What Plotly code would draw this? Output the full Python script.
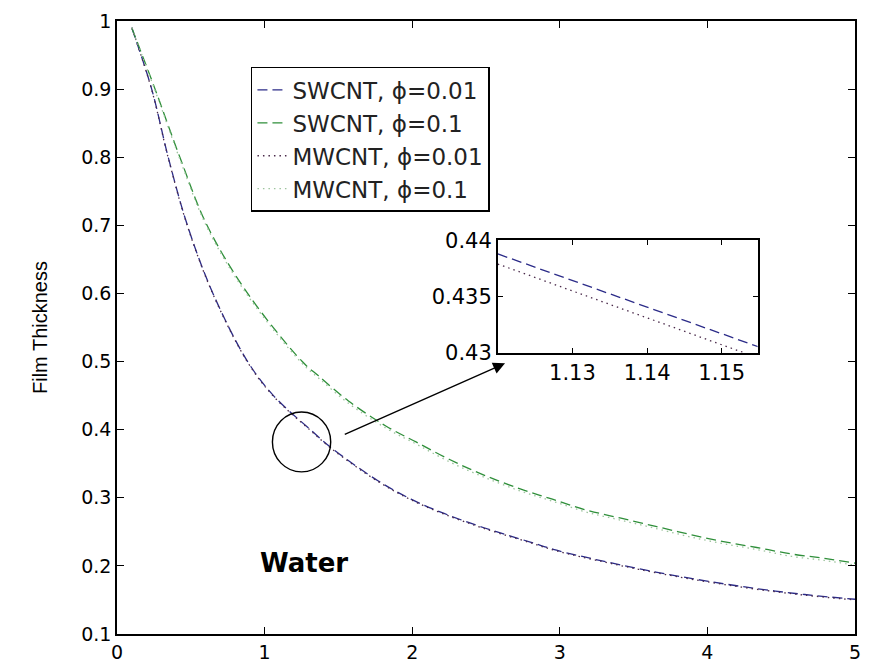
import plotly.graph_objects as go

# ---- data ----
x_sw = [0.1, 0.235, 0.347, 0.477, 0.65, 0.885, 1.06, 1.31, 1.454, 1.768, 1.992, 2.216,
        2.486, 2.8, 2.978, 3.314, 3.65, 3.987, 4.323, 4.659, 5.0]
y_sw_001 = [0.99, 0.9, 0.8, 0.7, 0.6, 0.5, 0.45, 0.4, 0.373, 0.325, 0.298, 0.277,
            0.256, 0.235, 0.223, 0.206, 0.191, 0.178, 0.167, 0.158, 0.151]
y_mw_001 = [0.99, 0.899, 0.799, 0.699, 0.599, 0.499, 0.449, 0.399, 0.372, 0.324, 0.297, 0.276,
            0.255, 0.234, 0.222, 0.205, 0.190, 0.177, 0.166, 0.157, 0.150]

x_up = [0.1, 0.258, 0.426, 0.61, 0.885, 1.255, 1.365, 1.566, 1.824, 2.026, 2.25, 2.478,
        2.732, 2.95, 3.18, 3.415, 3.65, 3.874, 4.099, 4.334, 4.569, 4.793, 5.0]
y_sw_01 = [0.99, 0.9, 0.8, 0.7, 0.6, 0.5, 0.479, 0.4425, 0.405, 0.382, 0.3565, 0.334,
           0.313, 0.298, 0.282, 0.270, 0.258, 0.2465, 0.236, 0.227, 0.2175, 0.211, 0.204]
y_mw_01 = [0.99, 0.898, 0.797, 0.697, 0.597, 0.497, 0.476, 0.439, 0.402, 0.379, 0.353, 0.331,
           0.310, 0.295, 0.279, 0.267, 0.255, 0.243, 0.233, 0.224, 0.214, 0.208, 0.201]

# zoomed inset
x_inset = [1.12, 1.155]
y_inset_sw = [0.4388, 0.4305]
y_inset_mw = [0.4379, 0.4295]

names = ["SWCNT, \u03d5=0.01", "SWCNT, \u03d5=0.1", "MWCNT, \u03d5=0.01", "MWCNT, \u03d5=0.1"]
x_ticks = [0, 1, 2, 3, 4, 5]
y_ticks = [0.1, 0.2, 0.3, 0.4, 0.5, 0.6, 0.7, 0.8, 0.9, 1]
y_ticktext = ["0.1", "0.2", "0.3", "0.4", "0.5", "0.6", "0.7", "0.8", "0.9", "1"]
inset_xticks = [1.13, 1.14, 1.15]
inset_yticks = [0.43, 0.435, 0.44]

c_sw001 = "#2b2b88"
c_sw01 = "#2f8f3a"
c_mw001 = "#4a2a4a"
c_mw01 = "#9ec49e"
DASH = "10px,5px"
DOT = "1.5px,4px"
FONT = "Liberation Sans, Arial, sans-serif"
WIDE = "DejaVu Sans, Verdana, sans-serif"

fig = go.Figure()
fig.add_trace(go.Scatter(x=x_sw, y=y_sw_001, mode="lines", name=names[0], line_shape="spline",
                         line=dict(color=c_sw001, width=1.3, dash=DASH)))
fig.add_trace(go.Scatter(x=x_up, y=y_sw_01, mode="lines", name=names[1], line_shape="spline",
                         line=dict(color=c_sw01, width=1.3, dash=DASH)))
fig.add_trace(go.Scatter(x=x_sw, y=y_mw_001, mode="lines", name=names[2], line_shape="spline",
                         line=dict(color=c_mw001, width=1.3, dash=DOT)))
fig.add_trace(go.Scatter(x=x_up, y=y_mw_01, mode="lines", name=names[3], line_shape="spline",
                         line=dict(color=c_mw01, width=1.3, dash=DOT)))

fig.add_trace(go.Scatter(x=x_inset, y=y_inset_sw, mode="lines", xaxis="x2", yaxis="y2",
                         showlegend=False, line=dict(color=c_sw001, width=1.3, dash=DASH)))
fig.add_trace(go.Scatter(x=x_inset, y=y_inset_mw, mode="lines", xaxis="x2", yaxis="y2",
                         showlegend=False, line=dict(color=c_mw001, width=1.3, dash=DOT)))

base = dict(showgrid=False, zeroline=False, showline=True, linecolor="black",
            linewidth=1.5, mirror="ticks", ticks="inside", tickcolor="black")
main_font = dict(family=WIDE, size=19, color="black")
inset_font = dict(family=WIDE, size=21, color="black")

fig.update_layout(
    width=870, height=672,
    margin=dict(l=117, r=9, t=17, b=38),
    paper_bgcolor="white", plot_bgcolor="white",
    font=dict(family=FONT, color="black"),
    xaxis=dict(range=[0, 5], tickvals=x_ticks, ticklen=7, domain=[0, 1],
               tickfont=main_font, **base),
    yaxis=dict(range=[0.1, 1], tickvals=y_ticks, ticktext=y_ticktext, ticklen=7, domain=[0, 1],
               tickfont=main_font,
               title=dict(text="Film Thickness", font=dict(family=FONT, size=20), standoff=28),
               **base),
    xaxis2=dict(range=[1.12, 1.1548], tickvals=inset_xticks, ticktext=["1.13", "1.14", "1.15"],
                ticklen=5, domain=[0.516, 0.868], anchor="y2", tickfont=inset_font, **base),
    yaxis2=dict(range=[0.43, 0.44], tickvals=inset_yticks, ticktext=["0.43", "0.435", "0.44"],
                ticklen=5, domain=[0.459, 0.642], anchor="x2", tickfont=inset_font, **base),
    legend=dict(x=0.1815, y=0.925, xanchor="left", yanchor="top",
                bgcolor="white", bordercolor="black", borderwidth=1.5,
                font=dict(family=WIDE, size=23, color="#222222"),
                tracegroupgap=0),
    shapes=[dict(type="circle", xref="x", yref="y", x0=1.053, x1=1.448, y0=0.338, y1=0.426,
                 line=dict(color="black", width=1.4))],
    annotations=[
        dict(x=2.629, y=0.4975, ax=1.533, ay=0.392, xref="x", yref="y", axref="x", ayref="y",
             text="", showarrow=True, arrowhead=2, arrowsize=1.7, arrowwidth=1.4,
             arrowcolor="black"),
        dict(x=1.264, y=0.204, xref="x", yref="y", text="<b>Water</b>", showarrow=False,
             font=dict(family=WIDE, size=26, color="black")),
    ],
)

fig.write_html("out.html")
